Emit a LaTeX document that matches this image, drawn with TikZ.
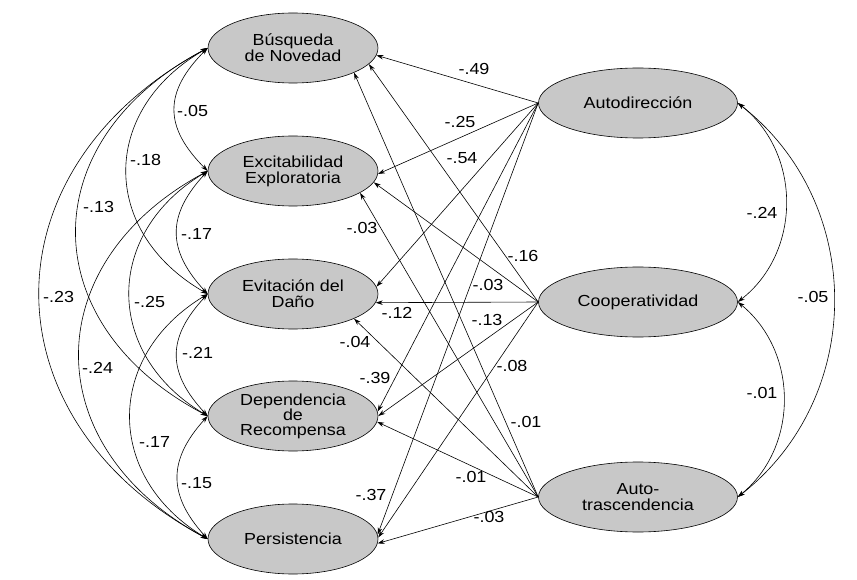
\documentclass[tikz,border=0pt]{standalone}
\usepackage{fontspec}
\setmainfont{Liberation Sans}[FakeStretch=1.12]
\usetikzlibrary{arrows.meta,shapes.geometric}
\definecolor{ellfill}{RGB}{200,200,200}
\begin{document}
\begin{tikzpicture}[x=1pt,y=-1pt,
  ell/.style={ellipse, draw, line width=0.6pt, fill=ellfill, inner sep=0pt,
    minimum width=170pt, minimum height=70pt, align=center,
    font=\fontsize{16}{16}\selectfont},
  rell/.style={ell, minimum width=199pt},
  lbl/.style={inner sep=0pt, font=\fontsize{16}{16}\selectfont},
  tip/.style={-{Stealth[length=7pt,width=4.5pt]}, line width=0.6pt},
  corr/.style={{Stealth[length=7pt,width=4.5pt]}-{Stealth[length=7pt,width=4.5pt]}, line width=0.6pt}]
\useasboundingbox (0,0) rectangle (857,580);
\fill[white] (0,0) rectangle (857,580);

% left latent traits
\node[ell] (bus) at (293,48) {Búsqueda\\de Novedad};
\node[ell] (exc) at (293,171) {Excitabilidad\\Exploratoria};
\node[ell] (evi) at (293,294) {Evitación del\\Daño};
\node[ell, font=\fontsize{16}{15}\selectfont] (dep) at (293,416) {Dependencia\\de\\Recompensa};
\node[ell] (per) at (293,539) {Persistencia};

% right latent traits
\node[rell] (aut) at (638,103) {Autodirección};
\node[rell] (coo) at (638,302) {Cooperatividad};
\node[rell] (tra) at (638,497) {Auto-\\trascendencia};

% paths from right to left
\draw[tip] (aut.west) -- (bus.-5);
\draw[tip] (aut.west) -- (exc.-2);
\draw[tip] (aut.west) -- (evi.5);
\draw[tip] (aut.west) -- (dep.3);
\draw[tip] (aut.west) -- (per.3);

\draw[tip] (coo.west) -- (bus.-12);
\draw[tip] (coo.west) -- (exc.-8);
\draw[tip] (coo.west) -- (evi.-6);
\draw[tip] (coo.west) -- (dep.0);
\draw[tip] (coo.west) -- (per.1);

\draw[tip] (tra.west) -- (bus.-22);
\draw[tip] (tra.west) -- (exc.-18);
\draw[tip] (tra.west) -- (evi.-22);
\draw[tip] (tra.west) -- (dep.-4);
\draw[tip] (tra.west) -- (per.-3);

% labels of paths
\node[lbl] (p1) at (474,69) {-.49};
\node[lbl] (p2) at (460,122) {-.25};
\node[lbl] (p3) at (462,158) {-.54};
\node[lbl] (p4) at (362,228) {-.03};
\node[lbl] (p5) at (523,256) {-.16};
\node[lbl] (p6) at (488,285) {-.03};
\node[lbl] (p7) at (397,313) {-.12};
\node[lbl] (p8) at (487,320) {-.13};
\node[lbl] (p9) at (355,342) {-.04};
\node[lbl] (p10) at (512,366) {-.08};
\node[lbl] (p11) at (375,378) {-.39};
\node[lbl] (p12) at (526,422) {-.01};
\node[lbl] (p13) at (471,477) {-.01};
\node[lbl] (p14) at (371,495) {-.37};
\node[lbl] (p15) at (489,517) {-.03};

% left correlations
\draw[corr] (bus.west) .. controls +(-44,44) and +(-44,-44) .. (exc.west);
\draw[corr] (bus.west) .. controls +(-108,62) and +(-108,-62) .. (evi.west);
\draw[corr] (bus.west) .. controls +(-175,92) and +(-175,-92) .. (dep.west);
\draw[corr] (bus.west) .. controls +(-224,120) and +(-224,-120) .. (per.west);
\draw[corr] (exc.west) .. controls +(-41,44) and +(-41,-44) .. (evi.west);
\draw[corr] (exc.west) .. controls +(-104,62) and +(-104,-62) .. (dep.west);
\draw[corr] (exc.west) .. controls +(-171,92) and +(-171,-92) .. (per.west);
\draw[corr] (evi.west) .. controls +(-41,44) and +(-41,-44) .. (dep.west);
\draw[corr] (evi.west) .. controls +(-103,62) and +(-103,-62) .. (per.west);
\draw[corr] (dep.west) .. controls +(-40,44) and +(-40,-44) .. (per.west);

\node[lbl, anchor=west] (c1) at (177,111) {-.05};
\node[lbl, anchor=west] (c2) at (130,160) {-.18};
\node[lbl, anchor=west] (c3) at (83,207) {-.13};
\node[lbl, anchor=west] (c4) at (43,297) {-.23};
\node[lbl, anchor=west] (c5) at (181,234) {-.17};
\node[lbl, anchor=west] (c6) at (134,302) {-.25};
\node[lbl, anchor=west] (c7) at (82,368) {-.24};
\node[lbl, anchor=west] (c8) at (182,353) {-.21};
\node[lbl, anchor=west] (c9) at (139,442) {-.17};
\node[lbl, anchor=west] (c10) at (181,483) {-.15};

% right correlations
\draw[corr] (aut.east) .. controls +(64,50) and +(64,-50) .. (coo.east);
\draw[corr] (coo.east) .. controls +(61,50) and +(61,-50) .. (tra.east);
\draw[corr] (aut.east) .. controls +(128,100) and +(128,-100) .. (tra.east);

\node[lbl] (r1) at (762,213) {-.24};
\node[lbl] (r2) at (762,393) {-.01};
\node[lbl] (r3) at (813,297) {-.05};
\end{tikzpicture}
\end{document}
